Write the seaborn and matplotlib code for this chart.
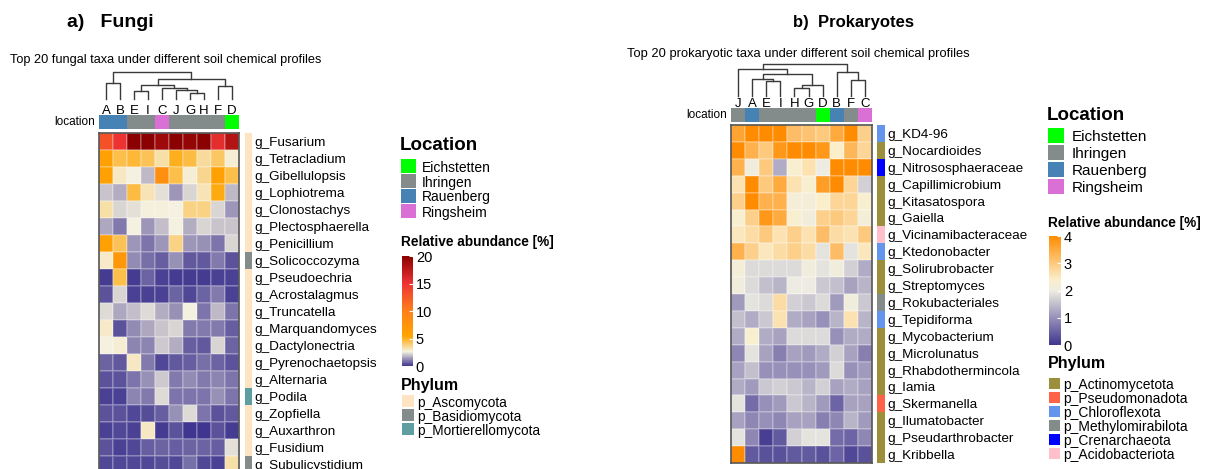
import numpy as np
import pandas as pd
import matplotlib
matplotlib.use('Agg')
import matplotlib.pyplot as plt
import seaborn as sn
from matplotlib.colors import LinearSegmentedColormap, ListedColormap
from matplotlib.patches import Rectangle

plt.rcParams['font.family'] = ['Liberation Sans', 'DejaVu Sans']

W, H = 1206, 469

# ---------------- data: fungi ----------------
fungiTaxa = ['g_Fusarium', 'g_Tetracladium', 'g_Gibellulopsis', 'g_Lophiotrema', 'g_Clonostachys',
             'g_Plectosphaerella', 'g_Penicillium', 'g_Solicoccozyma', 'g_Pseudoechria', 'g_Acrostalagmus',
             'g_Truncatella', 'g_Marquandomyces', 'g_Dactylonectria', 'g_Pyrenochaetopsis', 'g_Alternaria',
             'g_Podila', 'g_Zopfiella', 'g_Auxarthron', 'g_Fusidium', 'g_Subulicystidium']
fungiSamples = ['A', 'B', 'E', 'I', 'C', 'J', 'G', 'H', 'F', 'D']
fungiAbundance = [
    [13, 15, 20, 20, 19, 20, 19.5, 20, 15.5, 18],
    [6, 4.5, 4.7, 4.3, 3.3, 5, 4.6, 3.5, 4.2, 2.8],
    [6, 3, 2.6, 1.8, 8, 4.5, 2.8, 3.6, 6, 4.5],
    [2, 1.7, 4.6, 3.2, 2.4, 1.4, 2.2, 3.2, 5.2, 1.8],
    [3.3, 2.2, 2.4, 2.7, 2.7, 2.6, 3.8, 3.8, 2.2, 1.4],
    [1.6, 1.0, 2.6, 1.4, 1.9, 2.6, 1.7, 2.2, 2.0, 2.0],
    [6, 4.3, 1.4, 0.9, 1.4, 3.8, 1.4, 1.3, 0.9, 2.2],
    [2.9, 7, 1.2, 0.8, 0.6, 1.3, 0.5, 0.5, 1.0, 0.4],
    [0.15, 4.5, 0.15, 0.7, 0.2, 0.15, 0.15, 0.1, 0.2, 0.2],
    [0.4, 2.2, 0.2, 0.2, 0.2, 0.7, 0.3, 0.7, 1.0, 0.2],
    [2.3, 1.6, 1.9, 2.3, 1.7, 1.3, 2.6, 0.9, 1.8, 0.9],
    [2.9, 0.4, 1.2, 1.6, 2.0, 2.2, 1.0, 1.0, 1.0, 0.6],
    [2.6, 2.8, 1.1, 1.1, 2.1, 1.7, 0.6, 0.5, 2.2, 0.7],
    [0.7, 0.5, 3.0, 1.0, 0.3, 0.5, 0.6, 0.8, 0.7, 0.4],
    [0.4, 0.4, 0.9, 1.3, 2.1, 1.0, 1.2, 1.0, 1.1, 0.9],
    [0.2, 0.2, 1.1, 1.0, 2.3, 0.9, 0.9, 0.9, 1.3, 0.9],
    [0.4, 0.4, 0.25, 0.35, 0.6, 1.3, 2.3, 0.9, 0.4, 0.5],
    [0.2, 0.25, 0.2, 3.0, 0.15, 0.4, 0.05, 0.05, 0.4, 0.15],
    [0.4, 0.2, 0.3, 0.6, 0.7, 0.6, 0.7, 0.7, 0.6, 2.4],
    [0.3, 0.3, 0.25, 0.25, 0.35, 0.25, 0.8, 0.25, 0.2, 3.3],
]
fungiLocation = ['Rauenberg', 'Rauenberg', 'Ihringen', 'Ihringen', 'Ringsheim',
                 'Ihringen', 'Ihringen', 'Ihringen', 'Ihringen', 'Eichstetten']
fungiPhylum = ['p_Ascomycota'] * 7 + ['p_Basidiomycota'] + ['p_Ascomycota'] * 7 + \
              ['p_Mortierellomycota'] + ['p_Ascomycota'] * 3 + ['p_Basidiomycota']
# merges: (left, right, height)
fungiTree = (('A', 'B', 17),
             ((('E', 'I', 8), ('C', ('J', ('G', 'H', 6), 9), 11), 14), ('F', 'D', 13), 21),
             28)
fungiPhylumNames = ['p_Ascomycota', 'p_Basidiomycota', 'p_Mortierellomycota']
fungiPhylumColors = ['#FFE4C4', '#838B8B', '#5F9EA0']

# ---------------- data: prokaryotes ----------------
prokTaxa = ['g_KD4-96', 'g_Nocardioides', 'g_Nitrososphaeraceae', 'g_Capillimicrobium', 'g_Kitasatospora',
            'g_Gaiella', 'g_Vicinamibacteraceae', 'g_Ktedonobacter', 'g_Solirubrobacter', 'g_Streptomyces',
            'g_Rokubacteriales', 'g_Tepidiforma', 'g_Mycobacterium', 'g_Microlunatus', 'g_Rhabdothermincola',
            'g_Iamia', 'g_Skermanella', 'g_Ilumatobacter', 'g_Pseudarthrobacter', 'g_Kribbella']
prokSamples = ['J', 'A', 'E', 'I', 'H', 'G', 'D', 'B', 'F', 'C']
prokAbundance = [
    [3.6, 4, 4, 4, 3.2, 3.1, 3.0, 3.5, 4, 2.9],
    [4, 3.4, 3.0, 3.8, 4, 4, 3.8, 2.4, 3.3, 2.8],
    [3.4, 2.1, 3.0, 1.3, 2.3, 2.6, 2.0, 4, 4, 4],
    [2.6, 4, 3.0, 3.5, 2.6, 2.3, 3.7, 4, 2.8, 1.7],
    [2.9, 4, 3.4, 3.4, 2.2, 2.2, 2.4, 2.8, 2.8, 2.3],
    [2.3, 2.9, 3.8, 3.5, 2.3, 2.1, 2.9, 3.0, 2.8, 2.2],
    [2.5, 2.7, 3.0, 2.6, 2.9, 2.6, 3.2, 2.7, 2.6, 3.0],
    [3.4, 2.9, 2.5, 2.7, 2.9, 2.7, 1.9, 3.2, 1.9, 2.5],
    [2.2, 1.8, 1.8, 1.8, 1.8, 2.1, 1.9, 2.1, 1.7, 1.3],
    [2.1, 1.8, 1.5, 1.4, 2.0, 2.0, 1.6, 1.5, 1.2, 1.4],
    [1.1, 1.9, 1.8, 2.7, 1.7, 1.6, 1.8, 1.1, 2.1, 1.6],
    [1.5, 1.3, 1.6, 2.6, 1.3, 1.2, 1.0, 1.4, 2.6, 1.4],
    [1.3, 2.3, 1.3, 1.2, 1.8, 1.8, 1.8, 1.0, 1.3, 1.3],
    [0.9, 1.9, 1.2, 0.8, 1.2, 1.1, 1.3, 1.7, 1.2, 0.8],
    [1.2, 1.5, 1.0, 1.0, 1.0, 1.0, 1.1, 1.8, 1.0, 1.1],
    [1.3, 1.1, 1.6, 1.7, 1.6, 1.4, 1.7, 1.2, 1.3, 1.2],
    [1.9, 0.6, 1.0, 1.1, 1.6, 1.4, 1.1, 0.5, 1.2, 1.2],
    [1.2, 0.9, 1.0, 0.9, 1.2, 1.2, 0.8, 0.9, 1.4, 1.1],
    [1.9, 0.9, 0.1, 0.4, 1.7, 1.9, 1.9, 0.6, 0.5, 0.9],
    [4, 0.4, 0.3, 0.3, 0.4, 0.4, 0.3, 0.5, 0.2, 0.3],
]
prokLocation = ['Ihringen', 'Rauenberg', 'Ihringen', 'Ihringen', 'Ihringen',
                'Ihringen', 'Eichstetten', 'Rauenberg', 'Ihringen', 'Ringsheim']
prokPhylum = ['p_Chloroflexota', 'p_Actinomycetota', 'p_Crenarchaeota', 'p_Actinomycetota', 'p_Actinomycetota',
              'p_Actinomycetota', 'p_Acidobacteriota', 'p_Chloroflexota', 'p_Actinomycetota', 'p_Actinomycetota',
              'p_Methylomirabilota', 'p_Chloroflexota', 'p_Actinomycetota', 'p_Actinomycetota', 'p_Actinomycetota',
              'p_Actinomycetota', 'p_Pseudomonadota', 'p_Actinomycetota', 'p_Actinomycetota', 'p_Actinomycetota']
prokTree = (('J', (('A', ('E', 'I', 15), 18), (('H', 'G', 8), 'D', 11), 23), 28),
            ('B', ('F', 'C', 16), 25),
            33)
prokPhylumNames = ['p_Actinomycetota', 'p_Pseudomonadota', 'p_Chloroflexota',
                   'p_Methylomirabilota', 'p_Crenarchaeota', 'p_Acidobacteriota']
prokPhylumColors = ['#9C8F3B', '#FF6347', '#6495ED', '#838B8B', '#0000FF', '#FFC0CB']

locationNames = ['Eichstetten', 'Ihringen', 'Rauenberg', 'Ringsheim']
locationColors = ['#00FF00', '#838B8B', '#4682B4', '#DA70D6']

fungiCmap = LinearSegmentedColormap.from_list('fungi', [
    (0.0, '#40368F'), (0.13, '#F5F2E0'), (0.27, '#FFA500'),
    (0.5, '#FF7F1A'), (0.75, '#EE3333'), (1.0, '#8B0000')])
prokCmap = LinearSegmentedColormap.from_list('prok', [
    (0.0, '#40368F'), (0.5, '#EEECE2'), (0.6, '#FBEECB'), (1.0, '#FF8C00')])


def box(x0, y0, x1, y1):
    return [x0 / W, 1 - y1 / H, (x1 - x0) / W, (y1 - y0) / H]


def leaves(node):
    if isinstance(node, str):
        return [node]
    return leaves(node[0]) + leaves(node[1])


def drawTree(ax, node, pos):
    if isinstance(node, str):
        return pos[node], 0
    xl, hl = drawTree(ax, node[0], pos)
    xr, hr = drawTree(ax, node[1], pos)
    h = node[2]
    ax.plot([xl, xl, xr, xr], [hl, h, h, hr], color='#3a3a3a', lw=1, clip_on=False)
    return (xl + xr) / 2, h


def drawLegend(fig, title, names, colors, x, yTitle, y0, step, sw, sh, fs, tfs, tx):
    fig.text(x / W, 1 - yTitle / H, title, fontsize=tfs, fontweight='bold', va='baseline', ha='left')
    for i, (n, c) in enumerate(zip(names, colors)):
        top = y0 + i * step
        fig.patches.append(Rectangle(((x + 1) / W, 1 - (top + sh) / H), sw / W, sh / H,
                                     transform=fig.transFigure, facecolor=c, edgecolor='none'))
        fig.text(tx / W, 1 - (top + sh / 2) / H, n, fontsize=fs, va='center_baseline', ha='left')


def drawPanel(fig, taxa, samples, values, locs, phyla, tree, phNames, phColors, cmap, vmax, ticks, P):
    order = leaves(tree)
    df = pd.DataFrame(values, index=taxa, columns=samples)[order]
    locByS = dict(zip(samples, locs))
    n = len(order)

    axD = fig.add_axes(box(P['x0'], P['dTop'], P['x1'], P['dBot']))
    drawTree(axD, tree, {s: i + 0.5 for i, s in enumerate(order)})
    axD.set_xlim(0, n)
    axD.set_ylim(0, tree[2])
    axD.axis('off')

    axL = fig.add_axes(box(P['x0'], P['lTop'], P['x1'], P['lBot']))
    codes = np.array([[locationNames.index(locByS[s]) for s in order]])
    sn.heatmap(codes, cmap=ListedColormap(locationColors), vmin=-0.5, vmax=len(locationNames) - 0.5,
               cbar=False, ax=axL, xticklabels=order, yticklabels=['location'])
    axL.xaxis.tick_top()
    axL.tick_params(length=0)
    axL.tick_params(axis='x', labelsize=9.5, pad=-1.5)
    axL.tick_params(axis='y', labelsize=8.5, pad=3)
    axL.set_yticklabels(['location'], rotation=0)
    axL.set_xticklabels(order, rotation=0)

    axH = fig.add_axes(box(P['x0'], P['hTop'], P['x1'], P['hBot']))
    cax = fig.add_axes(box(*P['cbar']))
    sn.heatmap(df, cmap=cmap, vmin=0, vmax=vmax, ax=axH, cbar_ax=cax,
               xticklabels=False, yticklabels=False, linewidths=0.3, linecolor='#ffffff30')
    for sp in axH.spines.values():
        sp.set_visible(True)
        sp.set_color('#555555')
        sp.set_linewidth(1.2)
    cax.set_yticks(ticks)
    cax.set_yticklabels([str(t) for t in ticks])
    cax.tick_params(direction='in', length=3, color='white', labelsize=10.5, pad=2)
    for sp in cax.spines.values():
        sp.set_visible(False)

    axP = fig.add_axes(box(P['px0'], P['hTop'], P['px1'], P['hBot']))
    pcodes = np.array([[phNames.index(p)] for p in phyla])
    sn.heatmap(pcodes, cmap=ListedColormap(phColors), vmin=-0.5, vmax=len(phNames) - 0.5,
               cbar=False, ax=axP, xticklabels=False, yticklabels=taxa)
    axP.yaxis.tick_right()
    axP.tick_params(length=0, pad=P['lpad'], labelsize=9.7)
    axP.set_yticklabels(taxa, rotation=0)


fig = plt.figure(figsize=(W / 100, H / 100), dpi=100)

fig.text(67 / W, 1 - 27 / H, 'a)   Fungi', fontsize=14, fontweight='bold', va='baseline')
fig.text(793 / W, 1 - 27 / H, 'b)  Prokaryotes', fontsize=12, fontweight='bold', va='baseline')
fig.text(10 / W, 1 - 63 / H, 'Top 20 fungal taxa under different soil chemical profiles', fontsize=9.2, va='baseline')
fig.text(627 / W, 1 - 57 / H, 'Top 20 prokaryotic taxa under different soil chemical profiles', fontsize=9.3, va='baseline')

drawPanel(fig, fungiTaxa, fungiSamples, fungiAbundance, fungiLocation, fungiPhylum, fungiTree,
          fungiPhylumNames, fungiPhylumColors, fungiCmap, 20, [0, 5, 10, 15, 20],
          dict(x0=99, x1=239, dTop=72, dBot=99, lTop=115, lBot=129, hTop=133, hBot=473,
               px0=245, px1=252, lpad=2, cbar=(402, 256, 413, 366)))
drawPanel(fig, prokTaxa, prokSamples, prokAbundance, prokLocation, prokPhylum, prokTree,
          prokPhylumNames, prokPhylumColors, prokCmap, 4, [0, 1, 2, 3, 4],
          dict(x0=731, x1=872, dTop=64, dBot=96, lTop=108, lBot=122, hTop=125, hBot=463,
               px0=877, px1=885, lpad=2, cbar=(1049, 236, 1061, 345)))

drawLegend(fig, 'Location', locationNames, locationColors, 400, 150, 159, 15, 15, 14, 10, 13.5, 422)
fig.text(401 / W, 1 - 246 / H, 'Relative abundance [%]', fontsize=9.8, fontweight='bold', va='baseline')
drawLegend(fig, 'Phylum', fungiPhylumNames, fungiPhylumColors, 401, 390, 395, 14, 12, 12, 9.8, 11.5, 417)

drawLegend(fig, 'Location', locationNames, locationColors, 1047, 120, 128, 17, 16, 15, 11, 13.5, 1072)
fig.text(1048 / W, 1 - 227 / H, 'Relative abundance [%]', fontsize=9.8, fontweight='bold', va='baseline')
drawLegend(fig, 'Phylum', prokPhylumNames, prokPhylumColors, 1048, 368, 378, 14, 11, 11, 10, 11.5, 1063)

plt.savefig('out.png', dpi=100)
plt.close()
